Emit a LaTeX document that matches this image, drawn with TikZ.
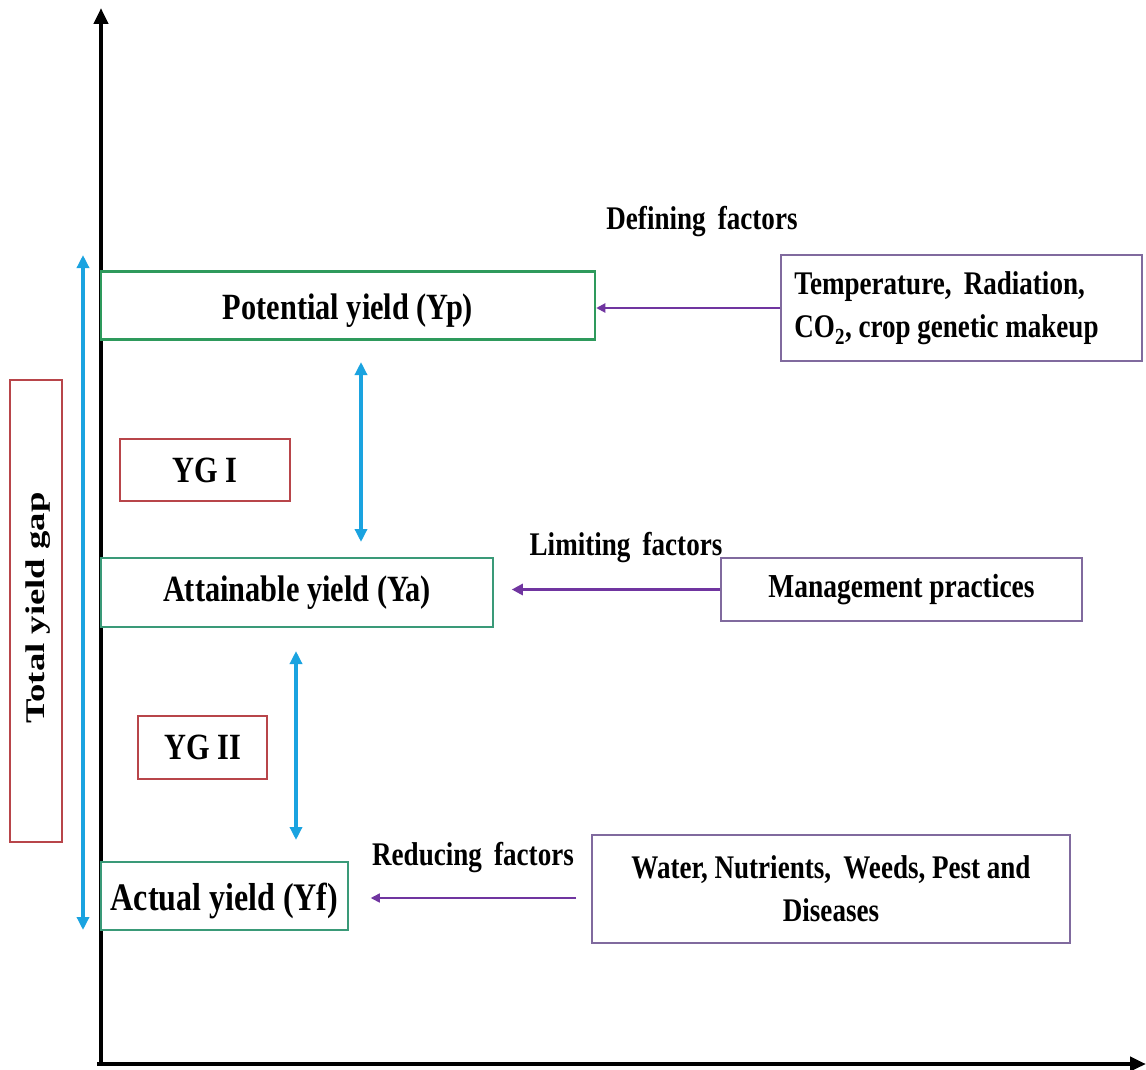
\documentclass[tikz,border=0pt]{standalone}
\usepackage{fontspec}
\setmainfont[FakeStretch=0.82]{Liberation Serif}
\newfontfamily\plainserif{Liberation Serif}
\usetikzlibrary{arrows.meta}
\definecolor{gA}{HTML}{2E9A5C}
\definecolor{gB}{HTML}{3A9A78}
\definecolor{rB}{HTML}{B8454A}
\definecolor{pB}{HTML}{806A9E}
\definecolor{pA}{HTML}{7035A0}
\definecolor{bA}{HTML}{1AA3E0}
\begin{document}
\begin{tikzpicture}[x=1pt,y=-1pt,
  bigtxt/.style={font=\fontsize{37}{44}\selectfont\bfseries},
  smtxt/.style={font=\fontsize{33}{43}\selectfont\bfseries},
  box/.style={draw, inner sep=0pt, fill=white},
  gbox/.style={box, draw=gB, line width=1.5pt, bigtxt},
  rbox/.style={box, draw=rB, line width=1.2pt, bigtxt},
  pbox/.style={box, draw=pB, line width=1.5pt, smtxt},
  axis/.style={line width=4pt, black, -{Triangle[length=16pt,width=14pt]}},
  barrow/.style={line width=3.5pt, bA, {Triangle[length=13pt,width=12pt]}-{Triangle[length=13pt,width=12pt]}},
  parrow/.style={line width=2pt, pA, -{Triangle[length=9pt,width=9pt]}}
]
\useasboundingbox (0,0) rectangle (1146,1070);
\fill[white] (0,0) rectangle (1146,1070);

% axes
\coordinate (O) at (101,1064);
\coordinate (ytop) at (101,8);
\coordinate (xleft) at (97,1064);
\coordinate (xend) at (1146,1064);
\draw[axis] (O) -- (ytop);
\draw[axis] (xleft) -- (xend);

% boxes
\node[gbox, draw=gA, line width=2.5pt, minimum width=494, minimum height=68, text height=30pt, text depth=3pt] (pot) at (348,305.5) {Potential yield (Yp)};
\node[gbox, minimum width=392, minimum height=69] (att) at (297,592.5) {Attainable yield (Ya)};
\node[gbox, minimum width=247, minimum height=68, font=\fontsize{39}{44}\selectfont\bfseries, text height=31pt, text depth=3pt] (act) at (224.5,896) {Actual yield (Yf)};
\node[rbox, minimum width=170, minimum height=62] (yg1) at (205,470) {YG I};
\node[rbox, minimum width=129, minimum height=63] (yg2) at (202.5,747.5) {YG II};
\node[rbox, minimum width=52, minimum height=462] (tot) at (36,611) {};
\node[rotate=90, inner sep=0pt, font=\plainserif\fontsize{36}{40}\selectfont\bfseries] (totl) at (38,608) {\scalebox{1.02}[0.75]{Total yield gap}};

\node[pbox, minimum width=361, minimum height=106] (tb) at (961.5,308) {};
\node[smtxt, anchor=west, align=left, inner sep=0pt] (tbl) at ([xshift=14pt]tb.west) {Temperature,\, Radiation,\\CO\textsubscript{2}, crop genetic makeup};
\node[pbox, minimum width=361, minimum height=63, font=\fontsize{33.5}{43}\selectfont\bfseries] (mg) at (901.5,589.5) {Management practices};
\node[pbox, minimum width=478, minimum height=108, align=center] (wb) at (831,889) {Water, Nutrients,\, Weeds, Pest and\\Diseases};

% factor labels
\node[smtxt, inner sep=0pt] (deff) at (702,222) {Defining\, factors};
\node[smtxt, inner sep=0pt] (limf) at (626,548) {Limiting\, factors};
\node[smtxt, inner sep=0pt] (redf) at (473,858) {Reducing\, factors};

% purple arrows
\draw[parrow] (tb.west) -- (tb.west -| pot.east);
\draw[parrow, line width=3pt, -{Triangle[length=11pt,width=11pt]}, shorten >=18pt] (mg.west) -- (mg.west -| att.east);
\coordinate (rs) at (576,898);
\draw[parrow, line width=1.5pt, shorten >=22pt] (rs) -- (rs -| act.east);

% blue arrows
\coordinate (bT) at (83,255);
\coordinate (bB) at (83,930);
\draw[barrow] (bT) -- (bB);
\coordinate (b1T) at (361,362);
\coordinate (b1B) at (361,542);
\draw[barrow] (b1T) -- (b1B);
\coordinate (b2T) at (296,651);
\coordinate (b2B) at (296,840);
\draw[barrow] (b2T) -- (b2B);
\end{tikzpicture}
\end{document}
